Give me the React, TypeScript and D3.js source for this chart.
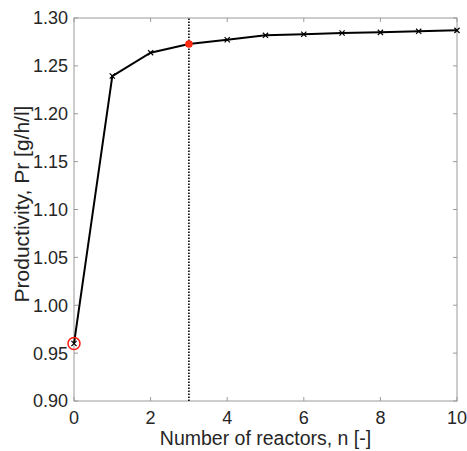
import React from "react";
import * as d3 from "d3";

const reactors = [0, 1, 2, 3, 4, 5, 6, 7, 8, 9, 10];
const productivity = [0.96, 1.2394, 1.2638, 1.2728, 1.2773, 1.2819, 1.283, 1.2843, 1.285, 1.2861, 1.2871];
const xTicks = [0, 2, 4, 6, 8, 10];
const yTicks = [0.9, 0.95, 1.0, 1.05, 1.1, 1.15, 1.2, 1.25, 1.3];
const chosenN = 3;

const W = 467;
const H = 451;
const margin = { top: 18, right: 10, bottom: 50, left: 74 };
const font = "Helvetica, Arial, 'Liberation Sans', sans-serif";
const axisColor = "#9a9a9a";
const textColor = "#262626";

export default function App() {
  const x = d3
    .scaleLinear()
    .domain([0, 10])
    .range([margin.left, W - margin.right]);
  const y = d3
    .scaleLinear()
    .domain([0.9, 1.3])
    .range([H - margin.bottom, margin.top]);

  const data = reactors.map((n, i) => ({ n, p: productivity[i] }));
  const line = d3
    .line<{ n: number; p: number }>()
    .x((d) => x(d.n))
    .y((d) => y(d.p));

  const x0 = margin.left;
  const x1 = W - margin.right;
  const y0 = H - margin.bottom;
  const y1 = margin.top;
  const tl = 4;
  const m = 2.6;
  const first = data[0];
  const chosen = data[chosenN];

  return (
    <svg
      width={W}
      height={H}
      style={{ position: "absolute", left: 0, top: 0, background: "#fff" }}
      fontFamily={font}
    >
      {/* box */}
      <rect x={x0} y={y1} width={x1 - x0} height={y0 - y1} fill="none" stroke={axisColor} strokeWidth={1} />
      {xTicks.map((t) => (
        <g key={"x" + t}>
          <line x1={x(t)} x2={x(t)} y1={y0} y2={y0 - tl} stroke={axisColor} />
          <line x1={x(t)} x2={x(t)} y1={y1} y2={y1 + tl} stroke={axisColor} />
          <text x={x(t)} y={424} textAnchor="middle" fontSize={18} fill={textColor}>
            {t}
          </text>
        </g>
      ))}
      {yTicks.map((t) => (
        <g key={"y" + t}>
          <line x1={x0} x2={x0 + tl} y1={y(t)} y2={y(t)} stroke={axisColor} />
          <line x1={x1} x2={x1 - tl} y1={y(t)} y2={y(t)} stroke={axisColor} />
          <text x={x0 - 6} y={y(t)} dy="0.36em" textAnchor="end" fontSize={18} fill={textColor}>
            {t.toFixed(2)}
          </text>
        </g>
      ))}

      {/* dotted marker line */}
      <line
        x1={x(chosenN)}
        x2={x(chosenN)}
        y1={y0}
        y2={y1}
        stroke="#000"
        strokeWidth={1.6}
        strokeDasharray="1.6,1.4"
      />

      <path d={line(data) ?? ""} fill="none" stroke="#000" strokeWidth={2} />
      {data.map((d) => (
        <path
          key={"m" + d.n}
          d={`M${x(d.n) - m},${y(d.p) - m}L${x(d.n) + m},${y(d.p) + m}M${x(d.n) - m},${y(d.p) + m}L${x(d.n) + m},${y(d.p) - m}`}
          stroke="#000"
          strokeWidth={1.2}
        />
      ))}
      <circle cx={x(chosen.n)} cy={y(chosen.p)} r={3.8} fill="#ff2a10" />
      <circle cx={x(first.n)} cy={y(first.p)} r={6} fill="none" stroke="#ff1a10" strokeWidth={1.5} />

      <text x={(x0 + x1) / 2} y={445} textAnchor="middle" fontSize={19.5} fill={textColor}>
        Number of reactors, n [-]
      </text>
      <text
        transform={`translate(29,204) rotate(-90)`}
        textAnchor="middle"
        fontSize={21}
        fill={textColor}
      >
        Productivity, Pr [g/h/l]
      </text>
    </svg>
  );
}
